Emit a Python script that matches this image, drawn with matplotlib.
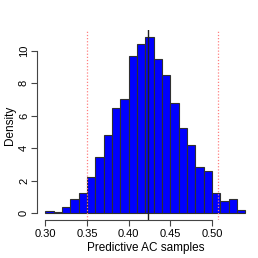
import numpy as np
import matplotlib
matplotlib.use("Agg")
import matplotlib.pyplot as plt

plt.rcParams['font.family'] = ['Liberation Sans', 'DejaVu Sans']

# histogram bins (width 0.01) and density heights
bin_edges = np.round(np.arange(0.30, 0.5401, 0.01), 2)
density = [0.14, 0.08, 0.41, 0.86, 1.23, 2.25, 3.48, 4.84, 6.48, 7.05,
           9.69, 10.41, 10.84, 9.47, 8.52, 6.78, 5.25, 4.18, 2.87, 2.60,
           1.23, 0.78, 0.86, 0.18]
ci_bounds = [0.350, 0.5075]
observed = 0.4228

x_ticks = [0.30, 0.35, 0.40, 0.45, 0.50]
x_tick_labels = ["0.30", "0.35", "0.40", "0.45", "0.50"]
y_ticks = [0, 2, 4, 6, 8, 10]

fig = plt.figure(figsize=(2.58, 2.58), dpi=100)
ax = fig.add_axes([0.1446, 0.1457, 0.8372, 0.738])

ax.bar(bin_edges[:-1], density, width=0.01, align='edge',
       color='blue', edgecolor='#303030', linewidth=0.8)

for b in ci_bounds:
    ax.axvline(b, color='#ff8080', linestyle=(0, (1, 1.5)), linewidth=0.9)
ax.axvline(observed, color='#202020', linewidth=1.0)

ax.set_xlim(0.2904, 0.5496)
ax.set_ylim(-0.43, 11.27)

for s in ['top', 'right']:
    ax.spines[s].set_visible(False)
ax.spines['left'].set_bounds(0, 10)
ax.spines['bottom'].set_bounds(0.30, 0.50)
for s in ['left', 'bottom']:
    ax.spines[s].set_color('#444444')
    ax.spines[s].set_linewidth(0.8)

ax.set_xticks(x_ticks)
ax.set_xticklabels(x_tick_labels)
ax.set_yticks(y_ticks)
ax.set_yticklabels([str(t) for t in y_ticks], rotation=90, va='center')
ax.tick_params(axis='both', labelsize=8, length=4, width=0.8,
               color='#444444', pad=2)

ax.set_xlabel("Predictive AC samples", fontsize=8.5, labelpad=2)
ax.set_ylabel("Density", fontsize=8.5, labelpad=2)

fig.savefig("out.png", dpi=100)
